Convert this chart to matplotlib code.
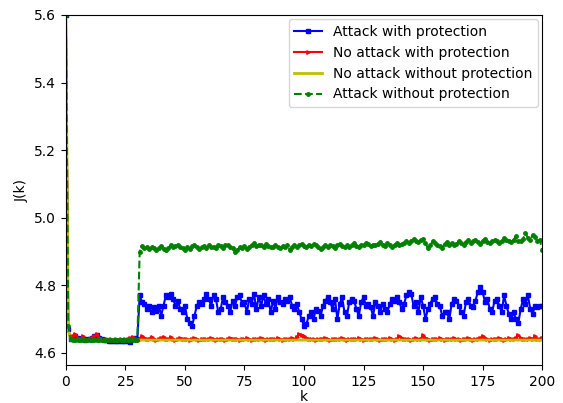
import numpy as np
import matplotlib.pyplot as plt

# J(k) under the four scenarios, k = 0..200
k = np.arange(201)

attack_prot = [
    5.60, 4.67, 4.640, 4.645, 4.650, 4.645, 4.640, 4.640, 4.638, 4.640,
    4.642, 4.645, 4.650, 4.652, 4.645, 4.640, 4.638, 4.638, 4.636, 4.636,
    4.636, 4.636, 4.636, 4.636, 4.636, 4.636, 4.634, 4.632, 4.640, 4.645,
    4.640, 4.770, 4.750, 4.745, 4.730, 4.740, 4.720, 4.735, 4.725, 4.740,
    4.710, 4.740, 4.770, 4.765, 4.775, 4.760, 4.740, 4.755, 4.730, 4.720,
    4.740, 4.700, 4.690, 4.680, 4.710, 4.740, 4.750, 4.745, 4.760, 4.775,
    4.760, 4.740, 4.770, 4.760, 4.720, 4.730, 4.765, 4.750, 4.740, 4.720,
    4.755, 4.740, 4.765, 4.770, 4.745, 4.750, 4.720, 4.760, 4.745, 4.775,
    4.730, 4.765, 4.740, 4.770, 4.745, 4.760, 4.720, 4.755, 4.730, 4.765,
    4.750, 4.745, 4.760, 4.755, 4.765, 4.740, 4.730, 4.745, 4.720, 4.700,
    4.680, 4.685, 4.710, 4.720, 4.700, 4.730, 4.725, 4.710, 4.740, 4.755,
    4.765, 4.750, 4.730, 4.760, 4.700, 4.745, 4.765, 4.720, 4.710, 4.750,
    4.760, 4.755, 4.730, 4.710, 4.750, 4.765, 4.740, 4.745, 4.735, 4.710,
    4.750, 4.740, 4.720, 4.745, 4.730, 4.720, 4.745, 4.760, 4.755, 4.765,
    4.750, 4.730, 4.745, 4.770, 4.780, 4.775, 4.740, 4.750, 4.720, 4.765,
    4.740, 4.700, 4.730, 4.745, 4.760, 4.765, 4.745, 4.740, 4.710, 4.720,
    4.720, 4.700, 4.745, 4.760, 4.755, 4.740, 4.720, 4.710, 4.750, 4.760,
    4.740, 4.735, 4.755, 4.780, 4.795, 4.780, 4.750, 4.760, 4.730, 4.720,
    4.755, 4.760, 4.740, 4.720, 4.770, 4.740, 4.715, 4.700, 4.720, 4.700,
    4.690, 4.730, 4.760, 4.745, 4.770, 4.730, 4.715, 4.740, 4.735, 4.740,
    4.740,
]

noattack_prot = [
    5.60, 4.67, 4.640, 4.650, 4.655, 4.645, 4.640, 4.650, 4.640, 4.638,
    4.640, 4.645, 4.650, 4.655, 4.645, 4.640, 4.638, 4.640, 4.638, 4.640,
    4.638, 4.640, 4.638, 4.640, 4.638, 4.640, 4.640, 4.645, 4.648, 4.642,
    4.640, 4.642, 4.650, 4.645, 4.640, 4.642, 4.648, 4.640, 4.638, 4.640,
    4.645, 4.648, 4.640, 4.642, 4.646, 4.640, 4.638, 4.640, 4.645, 4.640,
    4.642, 4.640, 4.638, 4.640, 4.645, 4.640, 4.638, 4.640, 4.642, 4.640,
    4.640, 4.645, 4.640, 4.638, 4.640, 4.642, 4.640, 4.638, 4.640, 4.645,
    4.640, 4.642, 4.640, 4.638, 4.640, 4.640, 4.645, 4.640, 4.638, 4.640,
    4.642, 4.640, 4.645, 4.640, 4.638, 4.640, 4.642, 4.640, 4.640, 4.645,
    4.640, 4.638, 4.640, 4.642, 4.640, 4.645, 4.640, 4.648, 4.655, 4.652,
    4.650, 4.645, 4.640, 4.642, 4.640, 4.638, 4.640, 4.642, 4.640, 4.645,
    4.640, 4.638, 4.640, 4.642, 4.640, 4.640, 4.645, 4.640, 4.638, 4.640,
    4.640, 4.642, 4.640, 4.645, 4.640, 4.638, 4.640, 4.642, 4.640, 4.640,
    4.645, 4.640, 4.638, 4.640, 4.642, 4.640, 4.645, 4.640, 4.638, 4.640,
    4.650, 4.645, 4.640, 4.642, 4.640, 4.638, 4.640, 4.645, 4.640, 4.642,
    4.652, 4.645, 4.640, 4.638, 4.640, 4.642, 4.640, 4.645, 4.640, 4.638,
    4.640, 4.642, 4.640, 4.645, 4.640, 4.640, 4.638, 4.642, 4.640, 4.645,
    4.640, 4.638, 4.640, 4.642, 4.645, 4.650, 4.645, 4.640, 4.638, 4.640,
    4.642, 4.640, 4.645, 4.640, 4.638, 4.640, 4.645, 4.642, 4.640, 4.645,
    4.652, 4.645, 4.640, 4.642, 4.640, 4.645, 4.640, 4.650, 4.642, 4.640,
    4.645,
]

noattack_noprot = [5.60, 4.67] + [4.638] * 199

attack_noprot = [
    5.60, 4.68, 4.640, 4.637, 4.637, 4.637, 4.637, 4.637, 4.637, 4.637,
    4.637, 4.637, 4.637, 4.637, 4.637, 4.637, 4.637, 4.637, 4.637, 4.637,
    4.637, 4.637, 4.637, 4.637, 4.637, 4.637, 4.637, 4.637, 4.637, 4.637,
    4.637, 4.900, 4.915, 4.910, 4.912, 4.908, 4.913, 4.910, 4.905, 4.910,
    4.915, 4.908, 4.904, 4.910, 4.918, 4.912, 4.915, 4.920, 4.913, 4.910,
    4.905, 4.912, 4.908, 4.915, 4.920, 4.912, 4.908, 4.913, 4.916, 4.910,
    4.918, 4.912, 4.914, 4.910, 4.920, 4.916, 4.910, 4.918, 4.920, 4.913,
    4.910, 4.900, 4.905, 4.912, 4.910, 4.916, 4.908, 4.912, 4.920, 4.924,
    4.915, 4.920, 4.918, 4.912, 4.922, 4.916, 4.912, 4.914, 4.918, 4.913,
    4.910, 4.915, 4.912, 4.918, 4.906, 4.914, 4.920, 4.912, 4.918, 4.922,
    4.916, 4.912, 4.920, 4.915, 4.922, 4.918, 4.914, 4.908, 4.912, 4.918,
    4.914, 4.920, 4.916, 4.910, 4.918, 4.922, 4.915, 4.912, 4.918, 4.913,
    4.918, 4.924, 4.916, 4.914, 4.920, 4.918, 4.925, 4.922, 4.916, 4.920,
    4.918, 4.922, 4.928, 4.920, 4.915, 4.924, 4.918, 4.912, 4.920, 4.925,
    4.918, 4.922, 4.926, 4.930, 4.924, 4.932, 4.936, 4.930, 4.928, 4.934,
    4.938, 4.925, 4.910, 4.918, 4.930, 4.925, 4.920, 4.915, 4.910, 4.922,
    4.928, 4.920, 4.925, 4.918, 4.922, 4.930, 4.924, 4.920, 4.928, 4.933,
    4.925, 4.930, 4.935, 4.928, 4.922, 4.932, 4.938, 4.928, 4.925, 4.930,
    4.935, 4.930, 4.925, 4.932, 4.940, 4.935, 4.930, 4.928, 4.935, 4.945,
    4.932, 4.930, 4.938, 4.955, 4.940, 4.935, 4.948, 4.942, 4.930, 4.935,
    4.905,
]

fig, ax = plt.subplots(figsize=(5.63, 4.03), dpi=100)
fig.subplots_adjust(left=0.117, right=0.963, top=0.963, bottom=0.094)

ax.plot(k, attack_prot, '-s', color='b', markersize=2.5, linewidth=1.5,
        label='Attack with protection')
ax.plot(k, noattack_prot, '->', color='r', markersize=2.5, linewidth=1.5,
        label='No attack with protection')
ax.plot(k, noattack_noprot, '-', color='y', linewidth=2,
        label='No attack without protection')
ax.plot(k, attack_noprot, '--o', color='g', markersize=2.5, linewidth=1.5,
        label='Attack without protection')

ax.set_xlim(0, 200)
ax.set_ylim(4.564, 5.6)
ax.set_xlabel('k', labelpad=1)
ax.set_ylabel('J(k)')
ax.legend(loc='upper right', borderaxespad=0.3)

plt.savefig('out.png')
